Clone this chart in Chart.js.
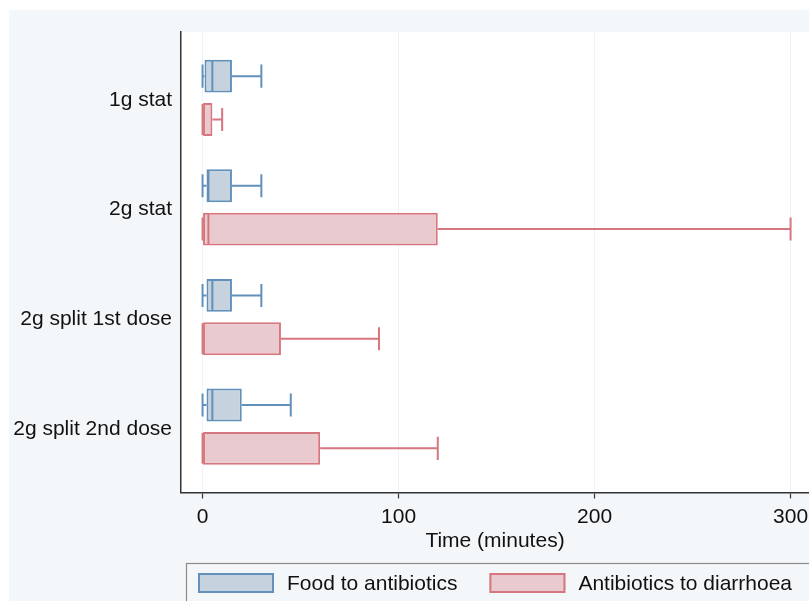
<!DOCTYPE html>
<html><head><meta charset="utf-8">
<script src="https://cdn.jsdelivr.net/npm/chart.js@4"></script>
<style>html,body{margin:0;padding:0;background:#fff}#wrap{width:809px;height:601px;position:relative}</style>
</head><body><div id="wrap"><canvas id="c" width="809" height="601"></canvas></div>
<script>
// ---- data (minutes) ----
const categories = ['1g stat', '2g stat', '2g split 1st dose', '2g split 2nd dose'];
const seriesNames = ['Food to antibiotics', 'Antibiotics to diarrhoea'];
const foodMin    = [0, 0, 0, 0];
const foodQ1     = [1, 2, 2, 2];
const foodMedian = [5, 3, 5, 5];
const foodQ3     = [15, 15, 15, 20];
const foodMax    = [30, 30, 30, 45];
const abxMin     = [0, 0, 0, 0];
const abxQ1      = [0, 0, 0, 0];
const abxMedian  = [0, 3, 0, 0];
const abxQ3      = [5, 120, 40, 60];
const abxMax     = [10, 300, 90, 120];
const xTicks     = [0, 100, 200, 300];

const FAMILY = '"Liberation Sans", Arial, Helvetica, sans-serif';
const FS = 21;
const boxData = (q1, q3) => categories.map((c, i) => ({ x: [q1[i], q3[i]], y: i }));

const bgPlugin = {
  id: 'bg',
  beforeDraw(chart) {
    const { ctx, chartArea: a, width, height } = chart;
    ctx.save();
    ctx.fillStyle = '#ffffff'; ctx.fillRect(0, 0, width, height);
    ctx.fillStyle = '#f4f7f9'; ctx.fillRect(9, 10, width - 9, height - 10);
    ctx.fillStyle = '#ffffff'; ctx.fillRect(a.left, a.top, a.right - a.left, a.bottom - a.top);
    ctx.restore();
  }
};

const whiskerPlugin = {
  id: 'whiskers',
  afterDatasetsDraw(chart) {
    const { ctx } = chart;
    const xs = chart.scales.x;
    chart.data.datasets.forEach((ds, d) => {
      const meta = chart.getDatasetMeta(d);
      meta.data.forEach((el, i) => {
        const h = el.height;
        const cy = el.y;
        const pMin = xs.getPixelForValue(ds.stats.min[i]);
        const pQ1 = xs.getPixelForValue(ds.stats.q1[i]);
        const pMed = xs.getPixelForValue(ds.stats.med[i]);
        const pQ3 = xs.getPixelForValue(ds.stats.q3[i]);
        const pMax = xs.getPixelForValue(ds.stats.max[i]);
        const cap = h * 0.35;
        ctx.save();
        ctx.strokeStyle = ds.borderColor;
        ctx.lineWidth = 2;
        ctx.beginPath();
        ctx.moveTo(pMin, cy); ctx.lineTo(pQ1, cy);
        ctx.moveTo(pQ3, cy); ctx.lineTo(pMax, cy);
        ctx.moveTo(pMin, cy - cap); ctx.lineTo(pMin, cy + cap);
        ctx.moveTo(pMax, cy - cap); ctx.lineTo(pMax, cy + cap);
        ctx.moveTo(pMed, cy - h / 2 + 1); ctx.lineTo(pMed, cy + h / 2 - 1);
        ctx.stroke();
        ctx.restore();
      });
    });
  }
};

const legendPlugin = {
  id: 'boxLegend',
  afterDraw(chart) {
    const { ctx } = chart;
    ctx.save();
    ctx.strokeStyle = '#8a8a8a';
    ctx.lineWidth = 1.2;
    ctx.strokeRect(186.5, 563.5, 640, 60);
    ctx.font = FS + 'px ' + FAMILY;
    ctx.textBaseline = 'middle';
    let x = 198;
    chart.data.datasets.forEach(ds => {
      ctx.fillStyle = ds.backgroundColor;
      ctx.fillRect(x, 573, 76, 20);
      ctx.strokeStyle = ds.borderColor;
      ctx.lineWidth = 2;
      ctx.strokeRect(x + 1, 574, 74, 18);
      ctx.fillStyle = '#111';
      ctx.fillText(ds.label, x + 89, 584);
      x += 89 + ctx.measureText(ds.label).width + 32;
    });
    ctx.restore();
  }
};

new Chart(document.getElementById('c'), {
  type: 'bar',
  data: {
    datasets: [
      {
        label: seriesNames[0],
        data: boxData(foodQ1, foodQ3),
        backgroundColor: '#c6d3df',
        borderColor: '#6190bb',
        borderWidth: 2,
        borderSkipped: false,
        stats: { min: foodMin, q1: foodQ1, med: foodMedian, q3: foodQ3, max: foodMax }
      },
      {
        label: seriesNames[1],
        data: boxData(abxQ1, abxQ3),
        backgroundColor: '#e9cacf',
        borderColor: '#d6767f',
        borderWidth: 2,
        borderSkipped: false,
        stats: { min: abxMin, q1: abxQ1, med: abxMedian, q3: abxQ3, max: abxMax }
      }
    ]
  },
  options: {
    indexAxis: 'y',
    responsive: false,
    animation: false,
    categoryPercentage: 0.79,
    barPercentage: 0.76,
    layout: { padding: { top: 32, left: 0, right: 0, bottom: 0 } },
    plugins: { legend: { display: false }, tooltip: { enabled: false } },
    scales: {
      x: {
        type: 'linear', position: 'bottom', min: -11, max: 309.4,
        afterBuildTicks: s => { s.ticks = xTicks.map(v => ({ value: v })); },
        afterFit: s => { s.height = 108.5; s.paddingLeft = 0; s.paddingRight = 0; },
        grid: { color: '#eef3f5', lineWidth: 1, drawTicks: true, tickLength: 6, tickColor: '#333', tickWidth: 1.2 },
        border: { color: '#333', width: 1.5 },
        ticks: { color: '#111', font: { family: FAMILY, size: FS }, padding: 6, maxRotation: 0, autoSkip: false },
        title: { display: true, text: 'Time (minutes)', color: '#111', font: { family: FAMILY, size: FS }, padding: { top: 0, bottom: 47 } }
      },
      y: {
        type: 'linear', reverse: true, offset: false, min: -0.6, max: 3.6,
        afterBuildTicks: s => { s.ticks = categories.map((c, i) => ({ value: i })); },
        afterFit: s => { s.width = 181; },
        grid: { display: false, drawTicks: false, offset: false },
        border: { color: '#333', width: 1.5 },
        ticks: { color: '#111', font: { family: FAMILY, size: FS }, padding: 9, labelOffset: 2, autoSkip: false, callback: v => categories[v] }
      }
    }
  },
  plugins: [bgPlugin, whiskerPlugin, legendPlugin]
});
</script>
</body></html>
